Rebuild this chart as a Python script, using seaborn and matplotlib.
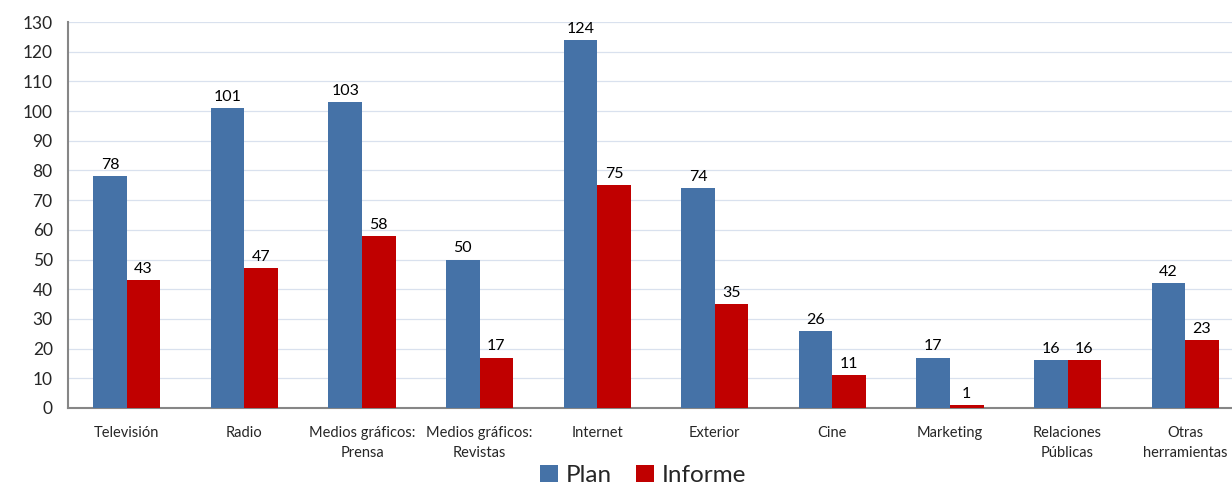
import pandas as pd
import matplotlib
matplotlib.use("Agg")
import matplotlib.pyplot as plt
import seaborn as sns

categorias = ["Televisión", "Radio", "Medios gráficos:\nPrensa", "Medios gráficos:\nRevistas",
              "Internet", "Exterior", "Cine", "Marketing", "Relaciones\nPúblicas", "Otras\nherramientas"]
plan = [78, 101, 103, 50, 124, 74, 26, 17, 16, 42]
informe = [43, 47, 58, 17, 75, 35, 11, 1, 16, 23]

df = pd.DataFrame({
    "categoria": categorias * 2,
    "valor": plan + informe,
    "serie": ["Plan"] * len(plan) + ["Informe"] * len(informe),
})

sns.set_style("white")
plt.rcParams["font.family"] = ["Lato", "DejaVu Sans"]

fig, ax = plt.subplots(figsize=(12.32, 4.86), dpi=100)
fig.subplots_adjust(left=68 / 1232, right=1244 / 1232, top=1 - 22 / 486, bottom=1 - 408 / 486)

sns.barplot(data=df, x="categoria", y="valor", hue="serie",
            palette={"Plan": "#4572A7", "Informe": "#C00000"},
            width=0.57, saturation=1, linewidth=0, ax=ax, zorder=3)

for c in ax.containers:
    ax.bar_label(c, padding=3, fontsize=11.5, color="#000000")

ax.set_ylim(0, 130)
ax.set_yticks(range(0, 131, 10))
ax.set_xlim(-0.5, len(categorias) - 0.5)
ax.set_xlabel("")
ax.set_ylabel("")
ax.grid(axis="y", color="#D9E1EE", linewidth=0.9, zorder=0)

# tick marks between categories
ax.set_xticks([i + 0.5 for i in range(-1, len(categorias))], minor=True)
ax.tick_params(axis="x", which="major", length=0, labelsize=10.5, pad=13)
ax.tick_params(axis="x", which="minor", length=5, color="#868686", width=1.2)
ax.tick_params(axis="y", length=5, color="#868686", width=1.2, labelsize=12.5, pad=6)
for t in ax.get_xticklabels():
    t.set_linespacing(1.55)

for s in ["top", "right"]:
    ax.spines[s].set_visible(False)
for s in ["left", "bottom"]:
    ax.spines[s].set_color("#868686")
    ax.spines[s].set_linewidth(1.5)

ax.legend_.remove()
handles, labels = ax.get_legend_handles_labels()
fig.legend(handles, labels, loc="lower center", bbox_to_anchor=(0.522, -0.045), ncol=2,
           frameon=False, fontsize=17.5, handlelength=0.75, handleheight=0.75,
           handletextpad=0.3, columnspacing=1.0)

fig.savefig("out.png", dpi=100)
